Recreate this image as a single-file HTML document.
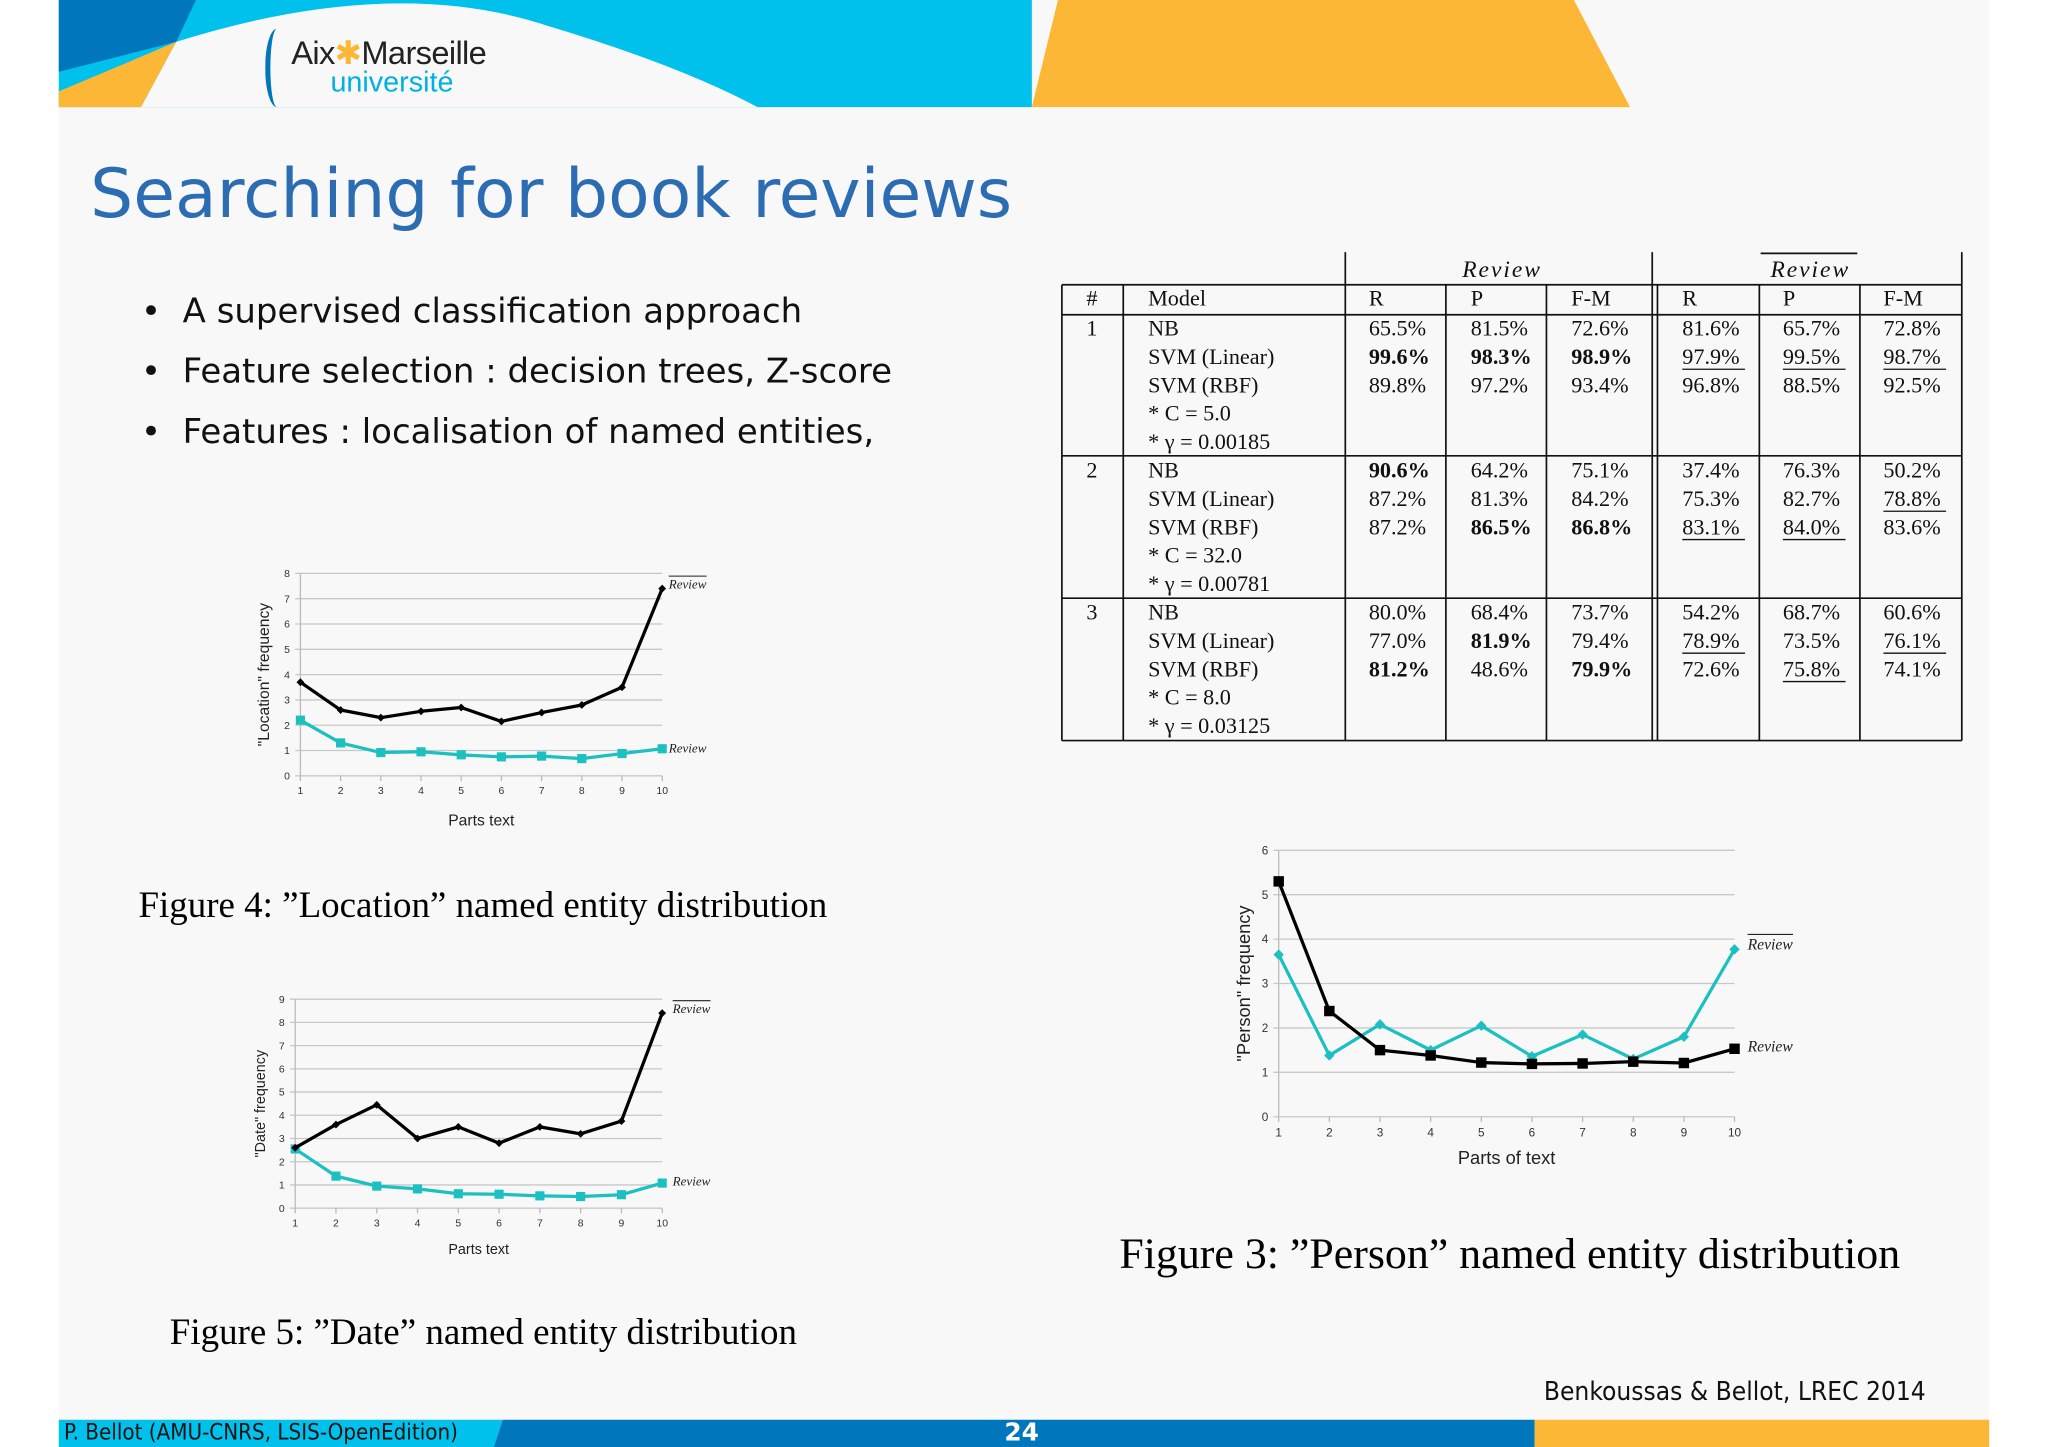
<!DOCTYPE html>
<html><head><meta charset="utf-8">
<style>
html,body{margin:0;padding:0;background:#fff;}
#wrap{width:2048px;height:1447px;overflow:hidden;position:relative;}
#slide{position:absolute;left:0;top:0;width:1568px;height:1108px;transform:scale(1.306122);transform-origin:0 0;font-family:"Liberation Sans",sans-serif;}
.abs{position:absolute;white-space:nowrap;}
</style></head><body>
<div id="wrap">
<div id="slide">
<svg width="1568" height="1108" style="position:absolute;left:0;top:0">
  <rect x="45" y="0" width="1478" height="1108" fill="#f8f8f8"/>
  <polygon points="45,0 790,0 790,82 45,82" fill="#00c0ec"/>
  <polygon points="45,0 150,0 135,32 45,55" fill="#0077bd"/>
  <polygon points="45,70 135,32 108,82 45,82" fill="#fdb737"/>
  <path d="M108,82 L135,32 Q300,-20 420,20 Q520,50 580,82 Z" fill="#f8f8f8"/>
  <polygon points="810,0 1205,0 1248,82 790,82" fill="#fdb737"/>
  <polygon points="45,1087 385,1087 378,1108 45,1108" fill="#00c0ec"/>
  <polygon points="385,1087 1175,1087 1175,1108 378,1108" fill="#0077bd"/>
  <polygon points="1175,1087 1523,1087 1523,1108 1175,1108" fill="#fdb737"/>
</svg>
<div class="abs" style="left:203px;top:22px;">
  <div style="position:absolute;left:0;top:0;width:14px;height:60px;border-left:4px solid #0077bd;border-radius:50% 0 0 50%;"></div>
  <div style="position:absolute;left:20px;top:4px;font-size:25px;color:#222;letter-spacing:-0.5px;">Aix<span style="color:#fdb737">✱</span>Marseille</div>
  <div style="position:absolute;left:50px;top:28px;font-size:22px;color:#00b0e0;">université</div>
</div>
<div class="abs" style="left:69px;top:119px;font-size:52px;color:#2b6cb3;font-family:'DejaVu Sans',sans-serif;">Searching for book reviews</div>
<div class="abs" style="left:108px;top:216px;font-size:26px;font-family:'DejaVu Sans',sans-serif;color:#111;line-height:46px;">
  <div>•&nbsp; A supervised classification approach</div>
  <div>•&nbsp; Feature selection : decision trees, Z-score</div>
  <div>•&nbsp; Features : localisation of named entities,</div>
</div>
<svg id="tbl" width="1568" height="1108" style="position:absolute;left:0;top:0" font-family="Liberation Serif, serif" font-size="17" fill="#111"></svg>
<svg id="charts" width="1568" height="1108" style="position:absolute;left:0;top:0"></svg>
<div class="abs" style="left:106px;top:678px;font-size:28.3px;font-family:'Liberation Serif',serif;">Figure 4: ”Location” named entity distribution</div>
<div class="abs" style="left:130px;top:1005px;font-size:28.3px;font-family:'Liberation Serif',serif;">Figure 5: ”Date” named entity distribution</div>
<div class="abs" style="left:857px;top:942px;font-size:33.6px;font-family:'Liberation Serif',serif;">Figure 3: ”Person” named entity distribution</div>
<div class="abs" style="left:1182px;top:1053px;font-size:20px;font-family:'DejaVu Sans Condensed','DejaVu Sans',sans-serif;color:#111;">Benkoussas &amp; Bellot, LREC 2014</div>
<div class="abs" style="left:49px;top:1087px;font-size:17px;font-family:'DejaVu Sans Condensed','DejaVu Sans',sans-serif;color:#111;">P. Bellot (AMU-CNRS, LSIS-OpenEdition)</div>
<div class="abs" style="left:769px;top:1086px;font-size:19px;font-weight:bold;font-family:'DejaVu Sans',sans-serif;color:#fff;">24</div>
</div></div>
<script>
const NS='http://www.w3.org/2000/svg';
function mk(parent,tag,attrs,text){const e=document.createElementNS(NS,tag);for(const k in attrs)e.setAttribute(k,attrs[k]);if(text!==undefined)e.textContent=text;parent.appendChild(e);return e;}

/* ---------- TABLE ---------- */
const tbl=document.getElementById('tbl');
const tblModels=[["NB","SVM (Linear)","SVM (RBF)","* C = 5.0","* γ = 0.00185"],["NB","SVM (Linear)","SVM (RBF)","* C = 32.0","* γ = 0.00781"],["NB","SVM (Linear)","SVM (RBF)","* C = 8.0","* γ = 0.03125"]];
const tblVals=[
 [["65.5%","81.5%","72.6%","81.6%","65.7%","72.8%"],["99.6%","98.3%","98.9%","97.9%","99.5%","98.7%"],["89.8%","97.2%","93.4%","96.8%","88.5%","92.5%"]],
 [["90.6%","64.2%","75.1%","37.4%","76.3%","50.2%"],["87.2%","81.3%","84.2%","75.3%","82.7%","78.8%"],["87.2%","86.5%","86.8%","83.1%","84.0%","83.6%"]],
 [["80.0%","68.4%","73.7%","54.2%","68.7%","60.6%"],["77.0%","81.9%","79.4%","78.9%","73.5%","76.1%"],["81.2%","48.6%","79.9%","72.6%","75.8%","74.1%"]]];
const tblBold=[[1,0],[1,1],[1,2],[3,0],[5,1],[5,2],[7,1],[8,0],[8,2]];
const tblUnder=[[1,3],[1,4],[1,5],[4,5],[5,3],[5,4],[7,3],[7,5],[8,4]];
const colX=[1048,1126,1203,1288,1365,1442];
const L=(x1,y1,x2,y2,w)=>mk(tbl,'line',{x1,y1,x2,y2,stroke:'#111','stroke-width':w||1.3});
L(1030,193,1030,567);L(1265,193,1265,567);L(1269,218,1269,567);L(1502,193,1502,567);
L(813,218,1502,218);L(813,241,1502,241);L(813,349,1502,349);L(813,458,1502,458);L(813,567,1502,567);
L(813,218,813,567);L(860,218,860,567);L(1107,218,1107,567);L(1184,218,1184,567);L(1347,218,1347,567);L(1424,218,1424,567);
L(1348,194,1422,194);
mk(tbl,'text',{x:1150,y:212,'text-anchor':'middle','font-style':'italic','font-size':18,'letter-spacing':1.5},'Review');
mk(tbl,'text',{x:1386,y:212,'text-anchor':'middle','font-style':'italic','font-size':18,'letter-spacing':1.5},'Review');
mk(tbl,'text',{x:836,y:234,'text-anchor':'middle'},'#');
mk(tbl,'text',{x:879,y:234},'Model');
["R","P","F-M","R","P","F-M"].forEach((h,i)=>mk(tbl,'text',{x:colX[i],y:234},h));
for(let g=0;g<3;g++){
  const y0=257+g*108.7;
  mk(tbl,'text',{x:836,y:y0,'text-anchor':'middle'},String(g+1));
  tblModels[g].forEach((m,k)=>mk(tbl,'text',{x:879,y:y0+k*21.7},m));
  for(let r=0;r<3;r++)for(let c=0;c<6;c++){
    const row=g*3+r;
    const bold=tblBold.some(b=>b[0]===row&&b[1]===c);
    mk(tbl,'text',{x:colX[c],y:y0+r*21.7,'font-weight':bold?'bold':'normal'},tblVals[g][r][c]);
    if(tblUnder.some(u=>u[0]===row&&u[1]===c))L(colX[c],y0+r*21.7+4,colX[c]+48,y0+r*21.7+4,1);
  }
}

/* ---------- CHARTS ---------- */
const xCats=[1,2,3,4,5,6,7,8,9,10];
const locBlack=[3.7,2.6,2.3,2.55,2.7,2.15,2.5,2.8,3.5,7.4];
const locCyan=[2.2,1.3,0.92,0.95,0.83,0.75,0.78,0.68,0.88,1.07];
const locTicks=[0,1,2,3,4,5,6,7,8];
const dateBlack=[2.6,3.6,4.45,3.0,3.5,2.8,3.5,3.2,3.75,8.4];
const dateCyan=[2.55,1.38,0.95,0.83,0.62,0.6,0.53,0.5,0.58,1.08];
const dateTicks=[0,1,2,3,4,5,6,7,8,9];
const personBlack=[5.3,2.38,1.5,1.38,1.22,1.19,1.2,1.24,1.21,1.53];
const personCyan=[3.65,1.38,2.08,1.5,2.05,1.36,1.85,1.3,1.8,3.77];
const personTicks=[0,1,2,3,4,5,6];
const CY='#1cc0c0';
const charts=document.getElementById('charts');

function drawChart(cfg){
  const g=mk(charts,'g',{});
  
  
  const ymax=cfg.ticks[cfg.ticks.length-1];
  const X=i=>cfg.x0+(cfg.x1-cfg.x0)*(xCats[i]-1)/(xCats.length-1);
  const Y=v=>cfg.y1-(cfg.y1-cfg.y0)*v/ymax;
  cfg.ticks.forEach(t=>{
    mk(g,'line',{x1:cfg.x0-4,x2:cfg.x1,y1:Y(t),y2:Y(t),stroke:'#c8c8c8','stroke-width':1});
    mk(g,'text',{x:cfg.x0-8,y:Y(t)+cfg.fs*0.35,'text-anchor':'end','font-size':cfg.fs,fill:'#333'},String(t));
  });
  mk(g,'line',{x1:cfg.x0,x2:cfg.x0,y1:cfg.y0,y2:cfg.y1,stroke:'#bbb'});
  xCats.forEach((c,i)=>{
    mk(g,'line',{x1:X(i),x2:X(i),y1:cfg.y1,y2:cfg.y1+4,stroke:'#bbb'});
    mk(g,'text',{x:X(i),y:cfg.y1+cfg.fs+6,'text-anchor':'middle','font-size':cfg.fs,fill:'#333'},String(c));
  });
  mk(g,'text',{x:(cfg.x0+cfg.x1)/2,y:cfg.y1+cfg.xlOff,'text-anchor':'middle','font-size':cfg.lfs,fill:'#222'},cfg.xlabel);
  mk(g,'text',{x:0,y:0,'text-anchor':'middle','font-size':cfg.lfs,fill:'#222',transform:`translate(${cfg.ylx},${(cfg.y0+cfg.y1)/2}) rotate(-90)`},cfg.ylabel);
  function series(vals,color,marker,w,ms,nm){
    const sg=mk(g,'g',{});
    
    
    mk(sg,'polyline',{points:vals.map((v,i)=>X(i)+','+Y(v)).join(' '),fill:'none',stroke:color,'stroke-width':w,'stroke-linejoin':'round'});
    vals.forEach((v,i)=>{
      const m= marker==='sq' ? mk(sg,'rect',{x:X(i)-ms,y:Y(v)-ms,width:2*ms,height:2*ms,fill:color})
        : mk(sg,'polygon',{points:`${X(i)},${Y(v)-ms} ${X(i)+ms},${Y(v)} ${X(i)},${Y(v)+ms} ${X(i)-ms},${Y(v)}`,fill:color});
      
      
    });
  }
  series(cfg.cyan,CY,cfg.cyanMarker,cfg.cw,cfg.cms,'series-'+cfg.cyanName);
  series(cfg.black,'#000',cfg.blackMarker,cfg.bw,cfg.bms,'series-'+cfg.blackName);
  const tx=cfg.x1+cfg.lblOff;
  function label(v,dy,over){
    mk(g,'text',{x:tx,y:Y(v)+dy,'font-size':cfg.lbfs,'font-style':'italic','font-family':'Liberation Serif, serif',fill:'#222'},'Review');
    if(over)mk(g,'line',{x1:tx,x2:tx+cfg.lbfs*2.9,y1:Y(v)+dy-cfg.lbfs*0.95,y2:Y(v)+dy-cfg.lbfs*0.95,stroke:'#222','stroke-width':0.8});
  }
  label(cfg.black[9],cfg.lblDyB,cfg.blackName==='not-review');
  label(cfg.cyan[9],cfg.lblDyC,cfg.cyanName==='not-review');
}
drawChart({name:'location-chart',x0:230,x1:507,y0:439,y1:594,ticks:locTicks,black:locBlack,cyan:locCyan,blackName:'not-review',cyanName:'review',fs:8,lfs:12,xlabel:'Parts text',ylabel:'"Location" frequency',ylx:206,xlOff:38,blackMarker:'dia',cyanMarker:'sq',bw:2.5,cw:2.5,bms:3,cms:3.5,lbfs:10,lblOff:5,lblDyB:0,lblDyC:3});
drawChart({name:'date-chart',x0:226,x1:507,y0:765,y1:925,ticks:dateTicks,black:dateBlack,cyan:dateCyan,blackName:'not-review',cyanName:'review',fs:8,lfs:11,xlabel:'Parts text',ylabel:'"Date" frequency',ylx:203,xlOff:35,blackMarker:'dia',cyanMarker:'sq',bw:2.5,cw:2.5,bms:3,cms:3.5,lbfs:10,lblOff:8,lblDyB:0,lblDyC:2});
drawChart({name:'person-chart',x0:979,x1:1328,y0:651,y1:855,ticks:personTicks,black:personBlack,cyan:personCyan,blackName:'review',cyanName:'not-review',fs:9,lfs:14,xlabel:'Parts of text',ylabel:'"Person" frequency',ylx:957,xlOff:36,blackMarker:'sq',cyanMarker:'dia',bw:2.5,cw:2.5,bms:4,cms:4,lbfs:12,lblOff:10,lblDyB:2,lblDyC:0});
</script>
</body></html>
